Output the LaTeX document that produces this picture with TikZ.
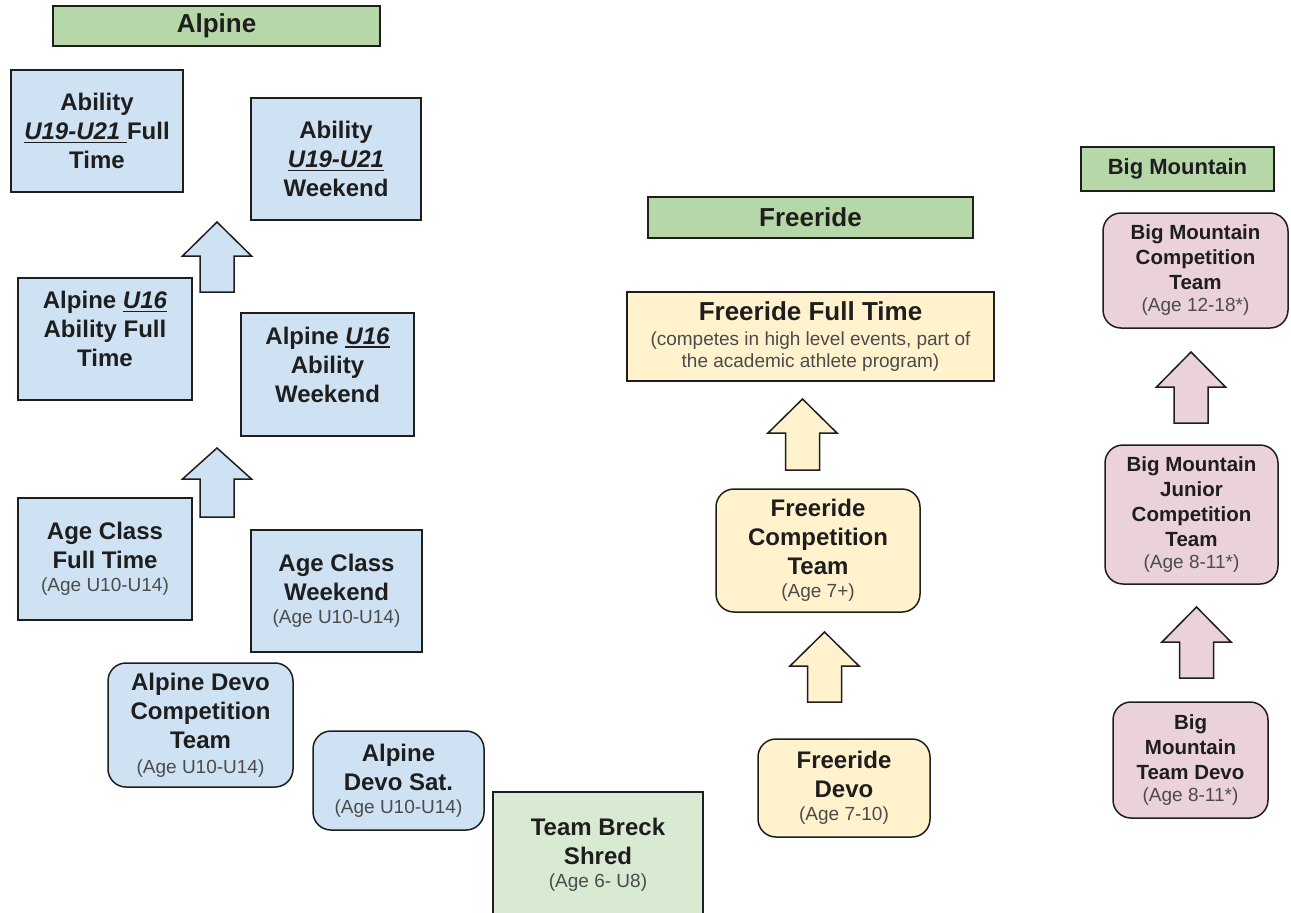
\documentclass[tikz,border=0pt]{standalone}
\usepackage{fontspec}
\setmainfont{Liberation Sans}
\definecolor{bluef}{HTML}{CFE2F3}
\definecolor{yelf}{HTML}{FFF2CC}
\definecolor{pinkf}{HTML}{EAD1DC}
\definecolor{hdrg}{HTML}{B6D7A8}
\definecolor{lgreen}{HTML}{D9EAD3}
\definecolor{ink}{HTML}{1E1E1E}
\newsavebox\myulbox
\newcommand\sm[1]{{\mdseries\fontsize{19}{22}\selectfont\color{ink!80}#1}}
\newcommand\ulit[1]{\sbox\myulbox{\textit{#1}}\leavevmode\rlap{\rule[-3.5pt]{\wd\myulbox}{1.5pt}}\usebox\myulbox}
\newcommand\blockup[5]{% fill, cx, tip, base, bottom
  \draw[barrow, fill=#1] ({#2},{#3}) -- ({#2+34.5},{#4}) -- ({#2+17},{#4}) -- ({#2+17},{#5})
    -- ({#2-17},{#5}) -- ({#2-17},{#4}) -- ({#2-34.5},{#4}) -- cycle;}
\tikzset{
  box/.style={draw=ink, line width=1.5pt, align=center, inner sep=0pt, text=ink,
    font=\bfseries\fontsize{24}{29}\selectfont},
  rbox/.style={box, rounded corners=18pt},
  bmbox/.style={rbox, fill=pinkf, font=\bfseries\fontsize{20.5}{25}\selectfont},
  hdr/.style={box, fill=hdrg, font=\bfseries\fontsize{26}{29}\selectfont},
  barrow/.style={draw=ink, line width=1.5pt, line join=miter},
}
\begin{document}
\begin{tikzpicture}[x=1pt,y=-1pt]
\useasboundingbox (0,0) rectangle (1291,913);
% headers
\node[hdr, minimum width=327, minimum height=40] (halp) at (216.5,26) {Alpine};
\node[hdr, minimum width=325, minimum height=41] (hfr) at (810.5,217.5) {Freeride};
\node[hdr, minimum width=193, minimum height=44, font=\bfseries\fontsize{22}{26}\selectfont] (hbm) at (1177.5,169) {Big Mountain};
% alpine column
\node[box, fill=bluef, minimum width=172, minimum height=122] (ab21ft) at (97,131) {Ability\\ \ulit{U19-U21\ }Full\\ Time};
\node[box, fill=bluef, minimum width=170, minimum height=122] (ab21we) at (336,159) {Ability\\ \ulit{U19-U21}\\ Weekend};
\node[box, fill=bluef, minimum width=174, minimum height=122] (u16ft) at (105,339) {Alpine \ulit{U16}\\ Ability Full\\ Time\\[-9pt]\mbox{}};
\node[box, fill=bluef, minimum width=173, minimum height=123] (u16we) at (327.5,374.5) {Alpine \ulit{U16}\\ Ability\\ Weekend\\[-9pt]\mbox{}};
\node[box, fill=bluef, minimum width=174, minimum height=122] (acft) at (105,559) {Age Class\\ Full Time\\[-6pt] \sm{(Age U10-U14)}};
\node[box, fill=bluef, minimum width=171, minimum height=122] (acwe) at (336.5,591) {Age Class\\ Weekend\\[-6pt] \sm{(Age U10-U14)}};
\node[rbox, fill=bluef, minimum width=185, minimum height=124] (devocomp) at (200.5,725) {Alpine Devo\\ Competition\\ Team\\[-4pt] \sm{(Age U10-U14)}};
\node[rbox, fill=bluef, minimum width=171, minimum height=99] (devosat) at (398.5,780.5) {Alpine\\ Devo Sat.\\[-6pt] \sm{(Age U10-U14)}};
\node[box, fill=lgreen, minimum width=210, minimum height=126] (breck) at (598,855) {Team Breck\\ Shred\\[-6pt] \sm{(Age 6- U8)}};
\blockup{bluef}{217}{222}{256}{292}
\blockup{bluef}{217}{448}{479}{517}
% freeride column
\node[box, fill=yelf, minimum width=367, minimum height=89, font=\bfseries\fontsize{26}{29}\selectfont] (frft) at (810.5,336.5) {Freeride Full Time\\[-4pt] \sm{(competes in high level events, part of}\\[-7pt] \sm{the academic athlete program)}};
\node[rbox, fill=yelf, minimum width=204, minimum height=123] (frcomp) at (818,550.5) {Freeride\\ Competition\\ Team\\[-6pt] \sm{(Age 7+)}};
\node[rbox, fill=yelf, minimum width=172, minimum height=98] (frdevo) at (844,788) {Freeride\\ Devo\\[-6pt] \sm{(Age 7-10)}};
\blockup{yelf}{802.5}{399}{433}{470}
\blockup{yelf}{824.5}{632}{666}{702}
% big mountain column
\node[bmbox, minimum width=185, minimum height=115] (bmcomp) at (1195.5,270.5) {Big Mountain\\ Competition\\ Team\\[-3pt] \sm{(Age 12-18*)}};
\node[bmbox, minimum width=173, minimum height=139] (bmjr) at (1191.5,514.5) {Big Mountain\\ Junior\\ Competition\\ Team\\[-3pt] \sm{(Age 8-11*)}};
\node[bmbox, minimum width=155, minimum height=116] (bmdevo) at (1190.5,760) {Big\\ Mountain\\ Team Devo\\[-3pt] \sm{(Age 8-11*)}};
\blockup{pinkf}{1191}{352}{387}{423}
\blockup{pinkf}{1196.5}{607}{642}{678}
\end{tikzpicture}
\end{document}
